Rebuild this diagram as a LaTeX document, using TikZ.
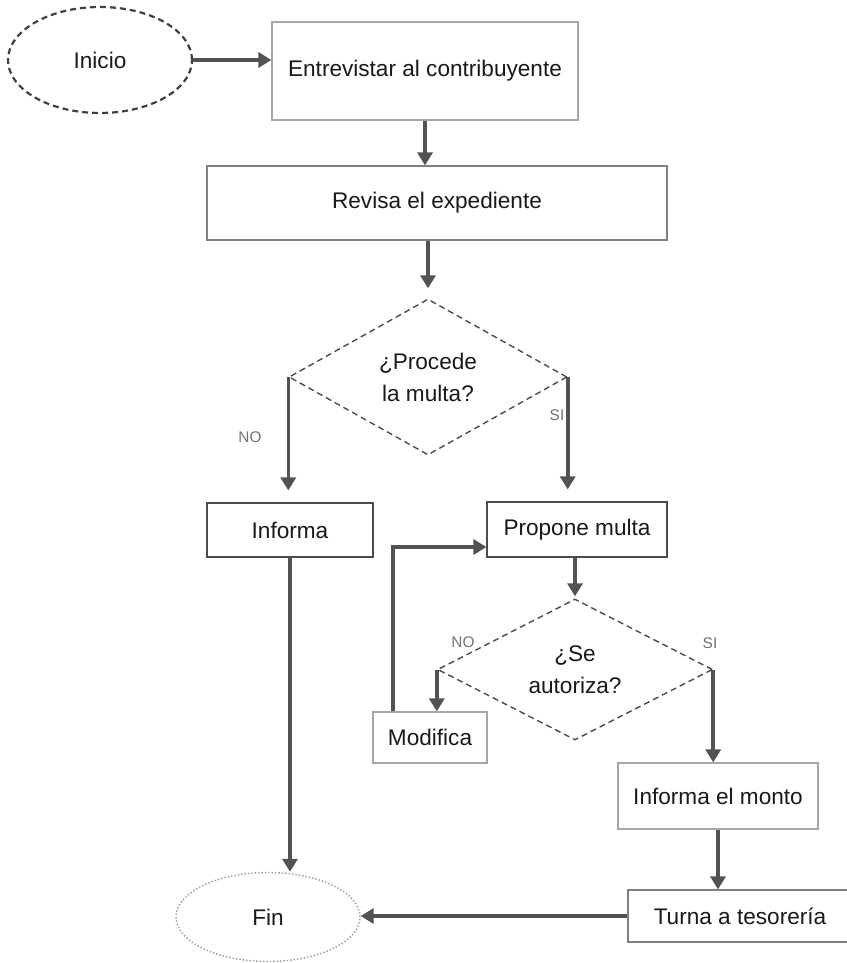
\documentclass[tikz,border=0pt]{standalone}
\usepackage{fontspec}
\setmainfont{Liberation Sans}
\usetikzlibrary{shapes.geometric,arrows.meta}
\newlength{\du}
\setlength{\du}{0.5pt}
\newcommand{\letracaja}{\fontsize{11.3}{16}\selectfont}
\newcommand{\letrarama}{\fontsize{7.7}{9}\selectfont}
\tikzset{
  caja/.style={rectangle, draw=#1, line width=1.2\du, inner sep=0pt, text=black!90, font=\letracaja},
  caja/.default={black!35},
  elipse/.style={ellipse, draw=#1, inner sep=0pt, text=black!90, font=\letracaja},
  decision/.style={diamond, draw=black!70, densely dashed, line width=1.4\du, inner sep=0pt, align=center, text=black!90, font=\letracaja},
  flecha/.style={draw=black!68, line width=3.6\du, -{Triangle[width=7.5pt,length=6.5pt]}},
  rama/.style={text=black!55, font=\letrarama}
}
\begin{document}
\begin{tikzpicture}
\pgftransformxscale{1.000000}
\pgftransformyscale{-1.000000}
\useasboundingbox (0\du,0\du) rectangle (846\du,963\du);
% inicio y fin
\node[elipse=black!75, densely dashed, line width=2.2\du, minimum width=184\du, minimum height=106\du] (inicio) at (100.000000\du,60.000000\du){Inicio};
\node[elipse=black!40, densely dotted, line width=1.4\du, minimum width=184\du, minimum height=89\du] (fin) at (268.000000\du,917.000000\du){Fin};
% pasos
\node[caja, minimum width=306\du, minimum height=98\du] (entrevistar) at (425.000000\du,71.000000\du){Entrevistar al contribuyente};
\node[caja=black!50, minimum width=460\du, minimum height=74\du] (revisa) at (437.000000\du,203.000000\du){Revisa el expediente};
\node[decision, minimum width=278\du, minimum height=156\du] (procede) at (428.000000\du,377.000000\du){¿Procede\\la multa?};
\node[caja=black!70, minimum width=166\du, minimum height=54\du] (informa) at (290.000000\du,530.000000\du){Informa};
\node[caja=black!70, minimum width=180\du, minimum height=55\du] (propone) at (577.000000\du,529.500000\du){Propone multa};
\node[decision, minimum width=275\du, minimum height=137\du] (autoriza) at (575.000000\du,669.500000\du){¿Se\\autoriza?};
\node[caja, minimum width=114\du, minimum height=51\du] (modifica) at (430.000000\du,737.500000\du){Modifica};
\node[caja, minimum width=200\du, minimum height=66\du] (monto) at (718.000000\du,796.000000\du){Informa el monto};
\node[caja=black!50, minimum width=224\du, minimum height=52\du] (turna) at (740.000000\du,916.000000\du){Turna a tesorería};
% etiquetas
\node[rama] (no1) at (250.000000\du,437.000000\du){NO};
\node[rama] (si1) at (557.000000\du,415.000000\du){SI};
\node[rama] (no2) at (463.000000\du,642.000000\du){NO};
\node[rama] (si2) at (710.000000\du,643.000000\du){SI};
\coordinate (vuelta) at (393.000000\du,547.000000\du);
% conectores
\draw[flecha] (inicio.east) -- (inicio.east -| entrevistar.west);
\draw[flecha] (entrevistar.south) -- (entrevistar.south |- revisa.north);
\draw[flecha, shorten >=5pt] (procede.north |- revisa.south) -- (procede.north);
\draw[flecha, shorten >=6pt] (procede.west) -- (procede.west |- informa.north);
\draw[flecha, shorten >=6pt] (procede.east) -- (procede.east |- propone.north);
\draw[flecha] (informa.south) -- (informa.south |- fin.north);
\draw[flecha, shorten >=1pt] (autoriza.north |- propone.south) -- (autoriza.north);
\draw[flecha] (autoriza.west) -- (autoriza.west |- modifica.north);
\draw[flecha] (modifica.north -| vuelta) -- (vuelta) -- (vuelta -| propone.west);
\draw[flecha] (autoriza.east) -- (autoriza.east |- monto.north);
\draw[flecha] (monto.south) -- (monto.south |- turna.north);
\draw[flecha] (turna.west) -- (turna.west -| fin.east);
\end{tikzpicture}
\end{document}
